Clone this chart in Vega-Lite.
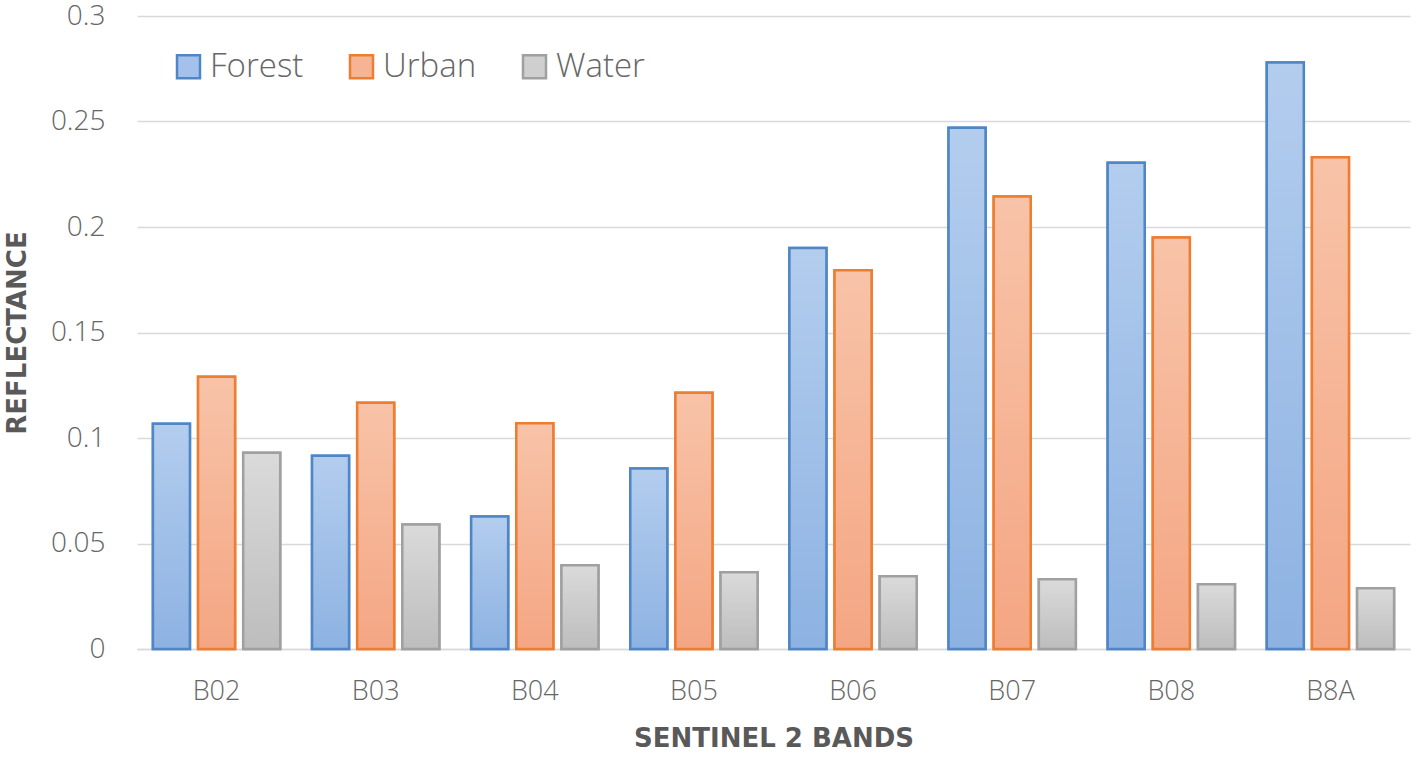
{
  "$schema": "https://vega.github.io/schema/vega-lite/v6.json",
  "autosize": {"type": "none"},
  "width": 1273,
  "height": 633,
  "padding": {"left": 137, "top": 16, "right": 8, "bottom": 112},
  "background": "white",
  "config": {"view": {"stroke": null}, "font": "Open Sans"},
  "data": {"values": [
    {"band": "B02", "cls": "Forest", "v": 0.1068},
    {"band": "B02", "cls": "Urban", "v": 0.129},
    {"band": "B02", "cls": "Water", "v": 0.093},
    {"band": "B03", "cls": "Forest", "v": 0.0916},
    {"band": "B03", "cls": "Urban", "v": 0.1167},
    {"band": "B03", "cls": "Water", "v": 0.059},
    {"band": "B04", "cls": "Forest", "v": 0.0628},
    {"band": "B04", "cls": "Urban", "v": 0.107},
    {"band": "B04", "cls": "Water", "v": 0.0397},
    {"band": "B05", "cls": "Forest", "v": 0.0855},
    {"band": "B05", "cls": "Urban", "v": 0.1214},
    {"band": "B05", "cls": "Water", "v": 0.0364},
    {"band": "B06", "cls": "Forest", "v": 0.19},
    {"band": "B06", "cls": "Urban", "v": 0.1795},
    {"band": "B06", "cls": "Water", "v": 0.0345},
    {"band": "B07", "cls": "Forest", "v": 0.247},
    {"band": "B07", "cls": "Urban", "v": 0.2145},
    {"band": "B07", "cls": "Water", "v": 0.033},
    {"band": "B08", "cls": "Forest", "v": 0.2305},
    {"band": "B08", "cls": "Urban", "v": 0.195},
    {"band": "B08", "cls": "Water", "v": 0.0307},
    {"band": "B8A", "cls": "Forest", "v": 0.278},
    {"band": "B8A", "cls": "Urban", "v": 0.233},
    {"band": "B8A", "cls": "Water", "v": 0.0288}
  ]},
  "encoding": {
    "x": {
      "field": "band", "type": "nominal", "sort": null,
      "scale": {"paddingInner": 0.2, "paddingOuter": 0.1},
      "axis": {
        "labelAngle": 0, "labelFontSize": 27, "labelColor": "#666666", "labelFontWeight": 300,
        "labelPadding": 29, "ticks": false, "domainColor": "#d9d9d9", "domainWidth": 1.5,
        "title": "SENTINEL 2 BANDS", "titleFont": "DejaVu Sans", "titleFontSize": 26, "titleFontWeight": "bold",
        "titleColor": "#595959", "titlePadding": 21
      }
    },
    "xOffset": {"field": "cls", "type": "nominal", "scale": {"domain": ["Forest", "Urban", "Water"], "paddingInner": 0.18, "paddingOuter": 0}},
    "y": {
      "field": "v", "type": "quantitative",
      "scale": {"domain": [0, 0.3]},
      "axis": {
        "values": [0, 0.05, 0.1, 0.15, 0.2, 0.25, 0.3], "format": ".2~f",
        "labelFontSize": 28, "labelColor": "#666666", "labelFontWeight": 300, "labelPadding": 32,
        "domain": false, "ticks": false, "gridColor": "#d9d9d9", "gridWidth": 1.5,
        "title": "REFLECTANCE", "titleFont": "DejaVu Sans", "titleFontSize": 26, "titleFontWeight": "bold",
        "titleColor": "#595959", "titlePadding": 20
      }
    }
  },
  "layer": [
    {
      "mark": {"type": "bar", "strokeWidth": 2.5},
      "encoding": {
        "fill": {
          "field": "cls", "type": "nominal",
          "scale": {"domain": ["Forest", "Urban", "Water"], "range": ["#a3c1ea", "#f6b494", "#cfcfcf"]},
          "legend": {
            "title": null, "orient": "none", "legendX": 35, "legendY": 34, "direction": "horizontal",
            "symbolType": "square", "symbolSize": 529, "symbolStrokeWidth": 2.5,
            "labelFontSize": 33, "labelColor": "#666666", "labelFontWeight": 300, "labelOffset": 5, "columnPadding": 41
          }
        },
        "stroke": {
          "field": "cls", "type": "nominal",
          "scale": {"domain": ["Forest", "Urban", "Water"], "range": ["#4f86c6", "#ed7d31", "#a0a0a0"]}
        }
      }
    },
    {
      "transform": [{"filter": "datum.cls === 'Forest'"}],
      "mark": {"type": "bar", "strokeWidth": 2.5, "stroke": "#4f86c6",
        "fill": {"gradient": "linear", "x1": 0, "y1": 0, "x2": 0, "y2": 1, "stops": [{"offset": 0, "color": "#b3cdee"}, {"offset": 1, "color": "#8db2e2"}]}}
    },
    {
      "transform": [{"filter": "datum.cls === 'Urban'"}],
      "mark": {"type": "bar", "strokeWidth": 2.5, "stroke": "#ed7d31",
        "fill": {"gradient": "linear", "x1": 0, "y1": 0, "x2": 0, "y2": 1, "stops": [{"offset": 0, "color": "#f8c3a8"}, {"offset": 1, "color": "#f4a683"}]}}
    },
    {
      "transform": [{"filter": "datum.cls === 'Water'"}],
      "mark": {"type": "bar", "strokeWidth": 2.5, "stroke": "#a0a0a0",
        "fill": {"gradient": "linear", "x1": 0, "y1": 0, "x2": 0, "y2": 1, "stops": [{"offset": 0, "color": "#dadada"}, {"offset": 1, "color": "#bdbdbd"}]}}
    }
  ]
}
